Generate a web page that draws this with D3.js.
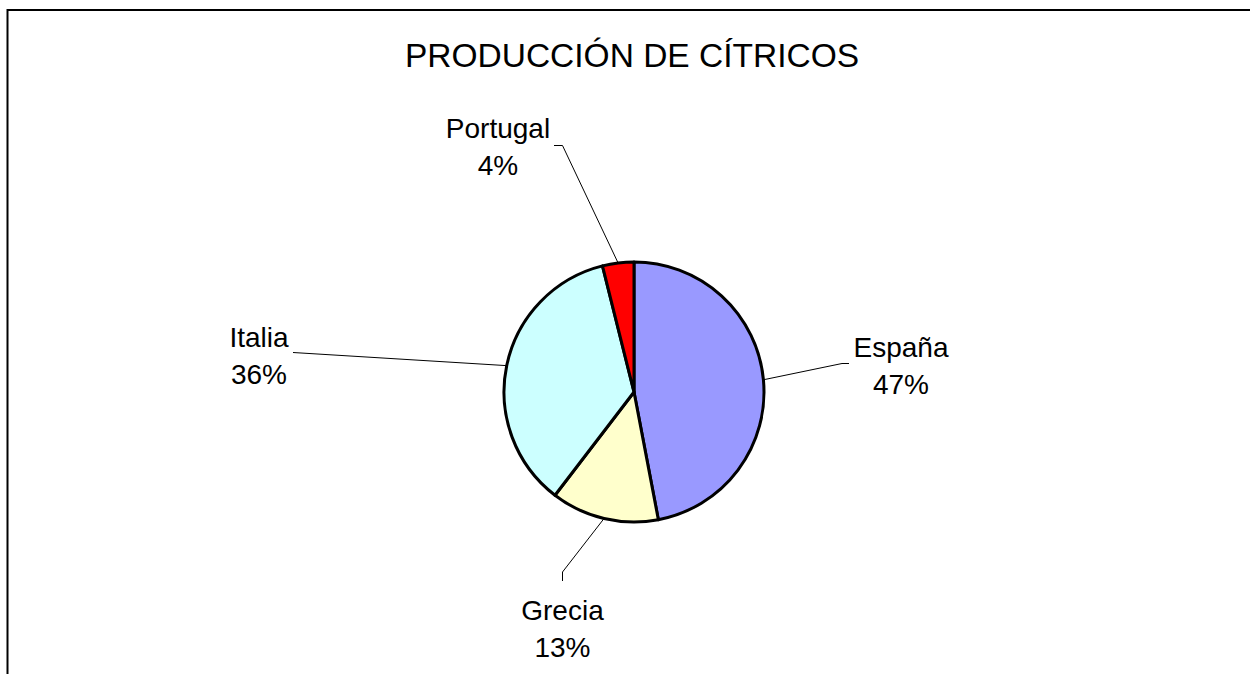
<!DOCTYPE html>
<html lang="es">

<head>
  <meta charset="utf-8">
  <title>Producción de cítricos</title>
  <style>
    body {
      margin: 0;
      background: #fff;
    }

    #chart text {
      font-family: "Liberation Sans", Arial, sans-serif;
      fill: #000;
    }

    .slice path {
      stroke: #000;
      stroke-width: 3px;
      stroke-linejoin: round;
    }

    .leader {
      fill: none;
      stroke: #000;
      stroke-width: 1px;
    }
  </style>
</head>

<body>
  <div id="chart"></div>
</body>
<script src="https://d3js.org/d3.v7.min.js"></script>

<script>

  // data
  let titulo = "PRODUCCIÓN DE CÍTRICOS";
  let paises = ["España", "Grecia", "Italia", "Portugal"];
  let produccion = [47.0, 13.4, 35.7, 3.9];
  let colores = ["#9999FF", "#FFFFCC", "#CCFFFF", "#FF0000"];

  // label placement (text centre, first baseline, leader bend points)
  let etiquetas = {
    "España": { x: 901, y: 357, bend: [[842, 363.5], [849, 363.5]] },
    "Grecia": { x: 562.5, y: 620, bend: [[562.5, 572], [562.5, 581]] },
    "Italia": { x: 259, y: 347, bend: [[293, 352.5]] },
    "Portugal": { x: 498, y: 138, bend: [[562.5, 145.5], [554, 145.5]] }
  };

  let w = 1250;
  let h = 674;
  let cx = 634;
  let cy = 392;
  let r = 130;
  let lineH = 37;

  let svg = d3.select("#chart")
    .append("svg")
    .attr("width", w)
    .attr("height", h);

  // chart area border (runs off the right / bottom edge)
  svg.append("rect")
    .attr("x", 7.5)
    .attr("y", 10)
    .attr("width", w + 20)
    .attr("height", h + 20)
    .attr("fill", "none")
    .attr("stroke", "#000")
    .attr("stroke-width", 2);

  svg.append("text")
    .attr("x", 632)
    .attr("y", 67)
    .attr("text-anchor", "middle")
    .style("font-size", "33.5px")
    .text(titulo);

  let data = paises.map((p, i) => { return { pais: p, valor: produccion[i], color: colores[i] } });
  let total = d3.sum(produccion);
  let pct = d3.format(".0%");

  let pie = d3.pie()
    .sort(null)
    .value((d) => { return d.valor });

  let arc = d3.arc().innerRadius(0).outerRadius(r);
  let edge = d3.arc().innerRadius(r).outerRadius(r);

  let g = svg.append("g")
    .attr("transform", "translate(" + cx + "," + cy + ")");

  let arcs = pie(data);

  g.selectAll(".slice")
    .data(arcs)
    .enter()
    .append("g")
    .attr("class", "slice")
    .append("path")
    .attr("d", arc)
    .attr("fill", (d) => { return d.data.color });

  // leader lines
  let line = d3.line();
  svg.selectAll(".leader")
    .data(arcs)
    .enter()
    .append("path")
    .attr("class", "leader")
    .attr("d", (d) => {
      let c = edge.centroid(d);
      let pts = [[cx + c[0], cy + c[1]]].concat(etiquetas[d.data.pais].bend);
      return line(pts);
    });

  // labels
  let lab = svg.selectAll(".lab")
    .data(arcs)
    .enter()
    .append("text")
    .attr("class", "lab")
    .attr("text-anchor", "middle")
    .style("font-size", "28px");

  lab.append("tspan")
    .attr("x", (d) => { return etiquetas[d.data.pais].x })
    .attr("y", (d) => { return etiquetas[d.data.pais].y })
    .text((d) => { return d.data.pais });

  lab.append("tspan")
    .attr("x", (d) => { return etiquetas[d.data.pais].x })
    .attr("y", (d) => { return etiquetas[d.data.pais].y + lineH })
    .text((d) => { return pct(d.data.valor / total) });

</script>
